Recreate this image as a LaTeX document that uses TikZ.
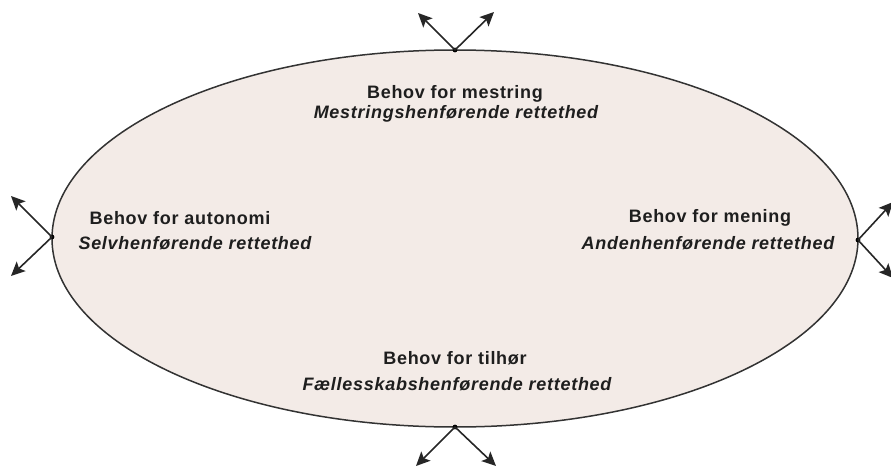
\documentclass[tikz,border=0pt]{standalone}
\usepackage{fontspec}
\setmainfont{Liberation Sans}
\newfontfamily\itfam[LetterSpace=4,BoldItalicFont={* Bold Italic}]{Liberation Sans}
\newfontfamily\bffam[LetterSpace=4,BoldFont={* Bold}]{Liberation Sans}
\usetikzlibrary{arrows.meta}
\definecolor{ellfill}{RGB}{243,235,231}
\definecolor{txt}{RGB}{30,30,30}
\tikzset{
  lab/.style={font=\bffam\fontsize{18}{20}\selectfont\bfseries, text=txt, inner sep=0pt, anchor=center},
  ilab/.style={font=\itfam\fontsize{18}{20}\selectfont\bfseries\itshape, text=txt, inner sep=0pt, anchor=center},
  arr/.style={-{Stealth[length=14pt,width=13pt,inset=3pt]}, line width=1.6pt, draw=black!85, fill=black!85},
  ell/.style={draw=black!80, line width=1.5pt, fill=ellfill}
}
\begin{document}
\begin{tikzpicture}[x=1pt,y=-1pt]
\useasboundingbox (0,0) rectangle (891,471);
\draw[ell] (455,238.5) ellipse [x radius=403, y radius=188.5];
\coordinate (top) at (455,50);
\coordinate (bot) at (455,427);
\coordinate (lft) at (52,237);
\coordinate (rgt) at (858,240);
\coordinate (t1) at (418,13);
\coordinate (t2) at (494,12);
\coordinate (b1) at (416,466);
\coordinate (b2) at (496,466);
\coordinate (l1) at (11,196);
\coordinate (l2) at (11,276);
\coordinate (r1) at (893,202);
\coordinate (r2) at (893,278);
\fill[black] (top) circle (2.4pt) (bot) circle (2.4pt) (lft) circle (2.4pt) (rgt) circle (2.4pt);
\draw[arr] (top) -- (t1);
\draw[arr] (top) -- (t2);
\draw[arr] (bot) -- (b1);
\draw[arr] (bot) -- (b2);
\draw[arr] (lft) -- (l1);
\draw[arr] (lft) -- (l2);
\draw[arr] (rgt) -- (r1);
\draw[arr] (rgt) -- (r2);
\node[lab] (m1) at (455,94) {Behov for mestring};
\node[ilab] (m2) at (456,114) {Mestringshenførende rettethed};
\node[lab] (a1) at (180,218) {Behov for autonomi};
\node[ilab] (a2) at (195,243) {Selvhenførende rettethed};
\node[lab] (n1) at (710,218) {Behov for mening};
\node[ilab] (n2) at (708,243) {Andenhenførende rettethed};
\node[lab] (h1) at (455,358) {Behov for tilhør};
\node[ilab] (h2) at (457,384) {Fællesskabshenførende rettethed};
\end{tikzpicture}
\end{document}
